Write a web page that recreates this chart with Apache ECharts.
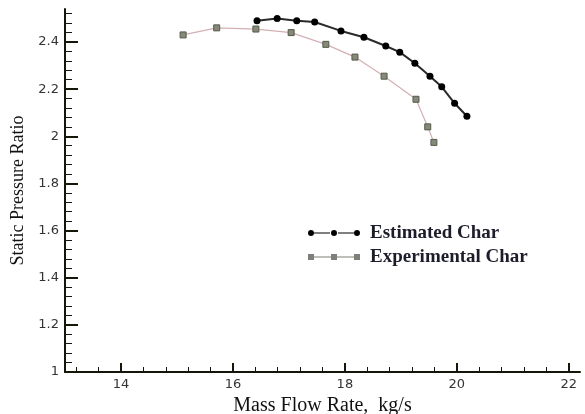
<!DOCTYPE html>
<html>
<head>
<meta charset="utf-8">
<script src="https://cdn.jsdelivr.net/npm/echarts@6/dist/echarts.min.js"></script>
<style>
  html, body { margin: 0; padding: 0; background: #fff; }
  #chart { width: 585px; height: 414px; }
</style>
</head>
<body>
<div id="chart"></div>
<script>
// estimated characteristic (black circles)
const estFlow = [16.43, 16.79, 17.14, 17.46, 17.93, 18.34, 18.73, 18.98, 19.25, 19.52, 19.73, 19.96, 20.18];
const estRatio = [2.49, 2.50, 2.49, 2.485, 2.447, 2.42, 2.383, 2.357, 2.31, 2.255, 2.21, 2.14, 2.085];
// experimental characteristic (grey squares)
const expFlow = [15.11, 15.71, 16.41, 17.04, 17.66, 18.18, 18.70, 19.27, 19.48, 19.59];
const expRatio = [2.43, 2.46, 2.455, 2.44, 2.39, 2.336, 2.255, 2.157, 2.04, 1.974];

const xTicks = [14, 16, 18, 20, 22];
const yTicks = [1, 1.2, 1.4, 1.6, 1.8, 2, 2.2, 2.4];

// minor ticks
const xMinor = [];
for (let i = 33; i <= 55; i++) xMinor.push(+(i * 0.4).toFixed(2));
const yMinor = [];
for (let i = 26; i <= 63; i++) yMinor.push(+(i * 0.04).toFixed(2));

const axisColor = '#15150a';
const tickFont = { color: '#333', fontSize: 13, fontFamily: 'DejaVu Sans' };
const serif = 'Liberation Serif';

// legend icons: line with three markers
const estIcon = 'path://M6 3.4H22V4.6H6Z M30 3.4H46V4.6H30Z M0 4A3 3 0 1 0 6 4A3 3 0 1 0 0 4Z M23 4A3 3 0 1 0 29 4A3 3 0 1 0 23 4Z M46 4A3 3 0 1 0 52 4A3 3 0 1 0 46 4Z';
const expIcon = 'path://M5 3.4H23V4.6H5Z M29 3.4H47V4.6H29Z M0 1H6V7H0Z M23 1H29V7H23Z M46 1H52V7H46Z';

const chart = echarts.init(document.getElementById('chart'));

chart.setOption({
  animation: false,
  backgroundColor: '#fff',
  grid: { left: 65, right: 5, top: 9, bottom: 42, outerBoundsMode: 'none', containLabel: false },
  legend: {
    orient: 'vertical',
    left: 308,
    top: 223,
    padding: 0,
    itemWidth: 52,
    itemHeight: 8,
    itemGap: 4,
    textStyle: { fontFamily: serif, fontWeight: 'bold', fontSize: 19, lineHeight: 20, color: '#1c1c2a', padding: [0, 0, 0, 5] },
    data: [
      { name: 'Estimated Char', icon: estIcon, itemStyle: { color: '#000', borderWidth: 0 }, lineStyle: { width: 0 } },
      { name: 'Experimental Char', icon: expIcon, itemStyle: { color: '#7d8078', borderWidth: 0 }, lineStyle: { width: 0 } }
    ]
  },
  xAxis: [
    {
      type: 'value', position: 'bottom', min: 13, max: 22.2,
      name: 'Mass Flow Rate,  kg/s', nameLocation: 'middle', nameGap: 22,
      nameTextStyle: { fontFamily: serif, fontSize: 20, color: '#111' },
      axisLine: { lineStyle: { color: axisColor, width: 2 } },
      axisTick: { inside: true, length: 9, customValues: xTicks, lineStyle: { color: axisColor, width: 2 } },
      axisLabel: { customValues: xTicks, margin: 6, ...tickFont },
      splitLine: { show: false }
    },
    {
      type: 'value', position: 'bottom', min: 13, max: 22.2,
      axisLine: { show: false },
      axisTick: { inside: true, length: 5, customValues: xMinor, lineStyle: { color: axisColor, width: 1 } },
      axisLabel: { show: false },
      splitLine: { show: false }
    }
  ],
  yAxis: [
    {
      type: 'value', position: 'left', min: 1, max: 2.54,
      name: 'Static Pressure Ratio', nameLocation: 'middle', nameGap: 37,
      nameTextStyle: { fontFamily: serif, fontSize: 18, color: '#111' },
      axisLine: { lineStyle: { color: axisColor, width: 2 } },
      axisTick: { inside: true, length: 13, customValues: yTicks, lineStyle: { color: axisColor, width: 2 } },
      axisLabel: { customValues: yTicks, margin: 6, ...tickFont },
      splitLine: { show: false }
    },
    {
      type: 'value', position: 'left', min: 1, max: 2.54,
      axisLine: { show: false },
      axisTick: { inside: true, length: 7, customValues: yMinor, lineStyle: { color: axisColor, width: 1 } },
      axisLabel: { show: false },
      splitLine: { show: false }
    }
  ],
  series: [
    {
      name: 'Estimated Char',
      type: 'line',
      data: estFlow.map((x, i) => [x, estRatio[i]]),
      symbol: 'circle',
      symbolSize: 7,
      itemStyle: { color: '#000' },
      lineStyle: { color: '#2a2a2a', width: 2 }
    },
    {
      name: 'Experimental Char',
      type: 'line',
      data: expFlow.map((x, i) => [x, expRatio[i]]),
      symbol: 'rect',
      symbolSize: 6,
      itemStyle: { color: '#858a78', borderColor: '#55594a', borderWidth: 1 },
      lineStyle: { color: '#d4b0b4', width: 1.2 }
    }
  ]
});
</script>
</body>
</html>
